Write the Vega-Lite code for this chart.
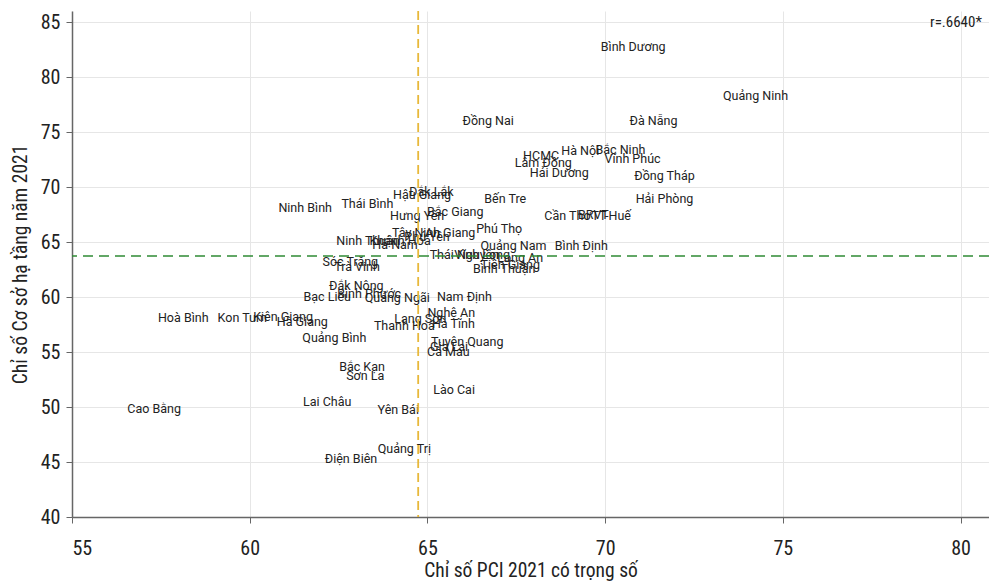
{
  "$schema": "https://vega.github.io/schema/vega-lite/v6.json",
  "width": 917,
  "height": 506,
  "autosize": {"type": "none"},
  "padding": {"left": 72, "top": 11, "right": 0, "bottom": 64},
  "background": "white",
  "config": {
    "view": {"stroke": null},
    "axis": {
      "grid": true,
      "gridColor": "#e6e6e6",
      "gridWidth": 1,
      "domainColor": "#666666",
      "domainWidth": 1.5,
      "tickColor": "#666666",
      "tickSize": 6,
      "labelFont": "Liberation Sans Narrow, Roboto Condensed, Roboto",
      "labelFontSize": 20,
      "labelColor": "#222222",
      "titleFont": "Liberation Sans Narrow, Roboto Condensed, Roboto",
      "titleFontSize": 19.5,
      "titleFontWeight": "normal",
      "titleColor": "#222222"
    }
  },
  "datasets": {
    "provinces": [
      {"name": "Bình Dương", "pci": 70.79, "infra": 82.73},
      {"name": "Quảng Ninh", "pci": 74.23, "infra": 78.27},
      {"name": "Đồng Nai", "pci": 66.71, "infra": 76.0},
      {"name": "Đà Nẵng", "pci": 71.36, "infra": 76.0},
      {"name": "Hà Nội", "pci": 69.3, "infra": 73.27},
      {"name": "Bắc Ninh", "pci": 70.43, "infra": 73.36},
      {"name": "HCMC", "pci": 68.2, "infra": 72.82},
      {"name": "Lâm Đồng", "pci": 68.26, "infra": 72.18},
      {"name": "Vĩnh Phúc", "pci": 70.77, "infra": 72.55},
      {"name": "Hải Dương", "pci": 68.71, "infra": 71.27},
      {"name": "Đồng Tháp", "pci": 71.67, "infra": 71.0},
      {"name": "Hải Phòng", "pci": 71.67, "infra": 68.91},
      {"name": "Bến Tre", "pci": 67.19, "infra": 68.91},
      {"name": "Cần Thơ", "pci": 68.94, "infra": 67.36},
      {"name": "BRVT", "pci": 69.67, "infra": 67.45},
      {"name": "TT-Huế", "pci": 70.17, "infra": 67.36},
      {"name": "Đắk Lắk", "pci": 65.11, "infra": 69.55},
      {"name": "Hậu Giang", "pci": 64.85, "infra": 69.27},
      {"name": "Thái Bình", "pci": 63.31, "infra": 68.45},
      {"name": "Ninh Bình", "pci": 61.56, "infra": 68.09},
      {"name": "Bắc Giang", "pci": 65.78, "infra": 67.73},
      {"name": "Hưng Yên", "pci": 64.71, "infra": 67.36},
      {"name": "Phú Thọ", "pci": 67.02, "infra": 66.18},
      {"name": "Tây Ninh", "pci": 64.68, "infra": 65.82},
      {"name": "An Giang", "pci": 65.64, "infra": 65.82},
      {"name": "Phú Yên", "pci": 64.99, "infra": 65.45},
      {"name": "Ninh Thuận", "pci": 63.33, "infra": 65.09},
      {"name": "Khánh Hoà", "pci": 64.23, "infra": 65.09},
      {"name": "Hà Nam", "pci": 64.09, "infra": 64.73},
      {"name": "Quảng Nam", "pci": 67.42, "infra": 64.64},
      {"name": "Bình Định", "pci": 69.33, "infra": 64.64},
      {"name": "Thái Nguyên", "pci": 66.04, "infra": 63.82},
      {"name": "Vĩnh Long", "pci": 66.54, "infra": 63.82},
      {"name": "Long An", "pci": 67.61, "infra": 63.55},
      {"name": "Tiền Giang", "pci": 67.33, "infra": 62.91},
      {"name": "Bình Thuận", "pci": 67.16, "infra": 62.55},
      {"name": "Sóc Trăng", "pci": 62.83, "infra": 63.18},
      {"name": "Trà Vinh", "pci": 63.02, "infra": 62.73},
      {"name": "Đắk Nông", "pci": 63.0, "infra": 61.0},
      {"name": "Bạc Liêu", "pci": 62.18, "infra": 60.0},
      {"name": "Bình Phước", "pci": 63.36, "infra": 60.27},
      {"name": "Quảng Ngãi", "pci": 64.15, "infra": 59.91},
      {"name": "Nam Định", "pci": 66.04, "infra": 60.0},
      {"name": "Nghệ An", "pci": 65.67, "infra": 58.55},
      {"name": "Lạng Sơn", "pci": 64.8, "infra": 58.0},
      {"name": "Hà Tĩnh", "pci": 65.73, "infra": 57.55},
      {"name": "Thanh Hoá", "pci": 64.35, "infra": 57.36},
      {"name": "Tuyên Quang", "pci": 66.12, "infra": 55.91},
      {"name": "Gia Lai", "pci": 65.61, "infra": 55.45},
      {"name": "Cà Mau", "pci": 65.59, "infra": 55.0},
      {"name": "Hoà Bình", "pci": 58.13, "infra": 58.09},
      {"name": "Kon Tum", "pci": 59.79, "infra": 58.09},
      {"name": "Kiên Giang", "pci": 60.94, "infra": 58.18},
      {"name": "Hà Giang", "pci": 61.48, "infra": 57.73},
      {"name": "Quảng Bình", "pci": 62.38, "infra": 56.27},
      {"name": "Bắc Kạn", "pci": 63.16, "infra": 53.64},
      {"name": "Sơn La", "pci": 63.25, "infra": 52.82},
      {"name": "Lào Cai", "pci": 65.75, "infra": 51.55},
      {"name": "Lai Châu", "pci": 62.18, "infra": 50.45},
      {"name": "Yên Bái", "pci": 64.18, "infra": 49.73},
      {"name": "Quảng Trị", "pci": 64.35, "infra": 46.18},
      {"name": "Điện Biên", "pci": 62.85, "infra": 45.27},
      {"name": "Cao Bằng", "pci": 57.31, "infra": 49.82}
    ],
    "vline": [{"pci": 64.74}],
    "hline": [{"infra": 63.73}],
    "note": [{"pci": 80.6, "infra": 85, "label": "r=.6640*"}]
  },
  "layer": [
    {
      "data": {"name": "provinces"},
      "mark": {"type": "text", "font": "Roboto", "fontSize": 12.5, "color": "#222222", "align": "center", "baseline": "middle"},
      "encoding": {
        "x": {"field": "pci", "type": "quantitative", "scale": {"domain": [55, 80.8], "nice": false, "zero": false},
          "axis": {"values": [55, 60, 65, 70, 75, 80], "title": "Chỉ số PCI 2021 có trọng số", "titlePadding": 3, "labelPadding": 15}},
        "y": {"field": "infra", "type": "quantitative", "scale": {"domain": [40, 86], "nice": false, "zero": false},
          "axis": {"values": [40, 45, 50, 55, 60, 65, 70, 75, 80, 85], "title": "Chỉ số Cơ sở hạ tầng năm 2021", "titlePadding": 10, "labelPadding": 6}},
        "text": {"field": "name"}
      }
    },
    {
      "data": {"name": "vline"},
      "mark": {"type": "rule", "color": "#e8b83a", "strokeWidth": 1.8, "strokeDash": [9, 5]},
      "encoding": {"x": {"field": "pci", "type": "quantitative"}}
    },
    {
      "data": {"name": "hline"},
      "mark": {"type": "rule", "color": "#2f8a35", "strokeWidth": 1.5, "strokeDash": [10, 6]},
      "encoding": {"y": {"field": "infra", "type": "quantitative"}}
    },
    {
      "data": {"name": "note"},
      "mark": {"type": "text", "font": "Liberation Sans Narrow, Roboto Condensed, Roboto", "fontSize": 15, "color": "#222222", "align": "right", "baseline": "middle"},
      "encoding": {
        "x": {"field": "pci", "type": "quantitative"},
        "y": {"field": "infra", "type": "quantitative"},
        "text": {"field": "label"}
      }
    }
  ]
}
